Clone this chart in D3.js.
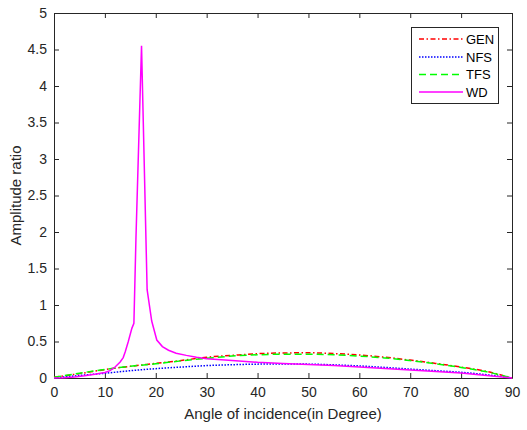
<!DOCTYPE html>
<html>
<head>
<meta charset="utf-8">
<script src="https://cdn.jsdelivr.net/npm/d3@7"></script>
<style>
  body { margin: 0; background: #fff; }
  svg { display: block; font-family: "Liberation Sans", Arial, sans-serif; }
</style>
</head>
<body>
<svg id="chart" width="527" height="430"></svg>
<script>
// values
var smoothAngles = [0, 5, 10, 15, 20, 25, 30, 35, 40, 45, 50, 55, 60, 65, 70, 75, 80, 85, 90];
var genVals = [0.01, 0.06, 0.115, 0.16, 0.2, 0.24, 0.285, 0.31, 0.333, 0.343, 0.345, 0.335, 0.315, 0.285, 0.245, 0.2, 0.15, 0.09, 0];
var nfsVals = [0, 0.035, 0.065, 0.1, 0.128, 0.15, 0.17, 0.182, 0.19, 0.192, 0.19, 0.18, 0.165, 0.145, 0.122, 0.1, 0.078, 0.045, 0];
var tfsVals = [0.01, 0.065, 0.118, 0.16, 0.195, 0.235, 0.27, 0.3, 0.318, 0.325, 0.325, 0.318, 0.3, 0.275, 0.238, 0.195, 0.145, 0.085, 0];

var wdAngles = [0, 2, 4, 6, 8, 10, 11, 12, 13, 13.6, 14, 14.6, 15.3, 15.7, 16.1, 17.2, 18.3, 19.2, 20.2, 21.3, 22.5, 24, 26, 28, 30, 35, 40, 45, 50, 55, 60, 65, 70, 75, 80, 85, 90];
var wdVals = [0, 0.005, 0.015, 0.03, 0.05, 0.075, 0.1, 0.15, 0.22, 0.28, 0.36, 0.5, 0.68, 0.75, 1.9, 4.55, 1.21, 0.78, 0.52, 0.43, 0.38, 0.34, 0.31, 0.285, 0.265, 0.24, 0.215, 0.2, 0.185, 0.17, 0.15, 0.13, 0.11, 0.09, 0.07, 0.035, 0];

var xTicks = [0, 10, 20, 30, 40, 50, 60, 70, 80, 90];
var yTicks = [0, 0.5, 1, 1.5, 2, 2.5, 3, 3.5, 4, 4.5, 5];

var seriesNames = ['GEN', 'NFS', 'TFS', 'WD'];
var seriesColors = ['#ff0000', '#0000ff', '#00ff00', '#ff00ff'];
var seriesDash = ['5,2.5,1.5,2.5', '1.5,1.5', '7,4', null];

var svg = d3.select('#chart');
var mLeft = 54, mRight = 512, mTop = 13, mBottom = 378;

var x = d3.scaleLinear().domain([0, 90]).range([mLeft, mRight]);
var y = d3.scaleLinear().domain([0, 5]).range([mBottom, mTop]);

var axisColor = '#262626';

// axes (ticks point inward, box on)
var gx = svg.append('g').attr('transform', 'translate(0,' + mBottom + ')')
	.call(d3.axisBottom(x).tickValues(xTicks).tickSizeInner(-5).tickSizeOuter(0).tickPadding(9));
var gy = svg.append('g').attr('transform', 'translate(' + mLeft + ',0)')
	.call(d3.axisLeft(y).tickValues(yTicks).tickFormat(d3.format('')).tickSizeInner(-5).tickSizeOuter(0).tickPadding(7));
var gt = svg.append('g').attr('transform', 'translate(0,' + mTop + ')')
	.call(d3.axisTop(x).tickValues(xTicks).tickSizeInner(-5).tickSizeOuter(0).tickFormat(''));
var gr = svg.append('g').attr('transform', 'translate(' + mRight + ',0)')
	.call(d3.axisRight(y).tickValues(yTicks).tickSizeInner(-5).tickSizeOuter(0).tickFormat(''));

[gx, gy, gt, gr].forEach(function (g) {
	g.selectAll('path').attr('stroke', axisColor);
	g.selectAll('line').attr('stroke', axisColor);
	g.selectAll('text').attr('fill', axisColor)
		.style('font-family', '"Liberation Sans", Arial, sans-serif')
		.style('font-size', '14px');
});

// axis labels
svg.append('text')
	.attr('x', (mLeft + mRight) / 2)
	.attr('y', 419)
	.attr('text-anchor', 'middle')
	.attr('font-size', '15px')
	.attr('fill', axisColor)
	.text('Angle of incidence(in Degree)');

svg.append('text')
	.attr('transform', 'translate(21,' + (mTop + mBottom) / 2 + ') rotate(-90)')
	.attr('text-anchor', 'middle')
	.attr('font-size', '15px')
	.attr('fill', axisColor)
	.text('Amplitude ratio');

// curves
var line = d3.line()
	.x(function (d) { return x(d[0]); })
	.y(function (d) { return y(d[1]); });

var smoothLine = d3.line()
	.x(function (d) { return x(d[0]); })
	.y(function (d) { return y(d[1]); })
	.curve(d3.curveMonotoneX);

var seriesData = [
	d3.zip(smoothAngles, genVals),
	d3.zip(smoothAngles, nfsVals),
	d3.zip(smoothAngles, tfsVals),
	d3.zip(wdAngles, wdVals)
];

svg.selectAll('.curve').data(seriesData).enter()
	.append('path')
	.attr('class', 'curve')
	.attr('d', function (d, i) { return i < 3 ? smoothLine(d) : line(d); })
	.attr('fill', 'none')
	.attr('stroke', function (d, i) { return seriesColors[i]; })
	.attr('stroke-width', 1.5)
	.attr('stroke-dasharray', function (d, i) { return seriesDash[i]; });

// legend
var legend = svg.append('g');
legend.append('rect')
	.attr('x', 411.5).attr('y', 27.5)
	.attr('width', 87).attr('height', 76)
	.attr('fill', '#fff')
	.attr('stroke', axisColor)
	.attr('stroke-width', 1);

var rowY = [39, 57, 74.5, 92];
legend.selectAll('.legLine').data(seriesNames).enter()
	.append('line')
	.attr('class', 'legLine')
	.attr('x1', 419).attr('x2', 463)
	.attr('y1', function (d, i) { return rowY[i]; })
	.attr('y2', function (d, i) { return rowY[i]; })
	.attr('stroke', function (d, i) { return seriesColors[i]; })
	.attr('stroke-width', 1.5)
	.attr('stroke-dasharray', function (d, i) { return seriesDash[i]; });

legend.selectAll('.legTxt').data(seriesNames).enter()
	.append('text')
	.attr('class', 'legTxt')
	.attr('x', 466)
	.attr('y', function (d, i) { return rowY[i]; })
	.attr('dy', '0.36em')
	.attr('font-size', '13px')
	.attr('fill', '#000')
	.text(function (d) { return d; });
</script>
</body>
</html>
